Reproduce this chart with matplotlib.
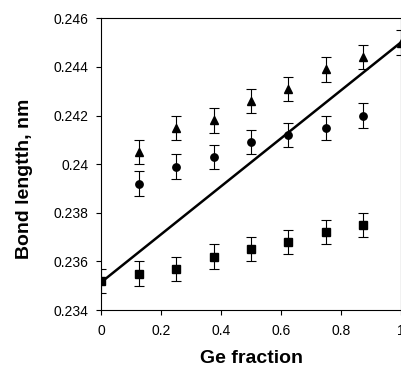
import matplotlib
matplotlib.use("Agg")

import numpy as np
import matplotlib.pyplot as plt

plt.rcParams['font.family'] = ['Liberation Sans', 'DejaVu Sans']

# ======================================
# DATA
# ======================================

x_tri = [0.125, 0.25, 0.375, 0.5, 0.625, 0.75, 0.875, 1.0]
y_tri = [0.2405, 0.2415, 0.2418, 0.2426, 0.2431, 0.2439, 0.2444, 0.2450]

x_circ = [0.125, 0.25, 0.375, 0.5, 0.625, 0.75, 0.875]
y_circ = [0.2392, 0.2399, 0.2403, 0.2409, 0.2412, 0.2415, 0.2420]

x_sq = [0.0, 0.125, 0.25, 0.375, 0.5, 0.625, 0.75, 0.875]
y_sq = [0.2352, 0.2355, 0.2357, 0.2362, 0.2365, 0.2368, 0.2372, 0.2375]

err = 0.0005

# Vegard line
x_line = [0.0, 1.0]
y_line = [0.23515, 0.2450]

xticks = [0, 0.2, 0.4, 0.6, 0.8, 1]
xtick_labels = ["0", "0.2", "0.4", "0.6", "0.8", "1"]
yticks = [0.234, 0.236, 0.238, 0.240, 0.242, 0.244, 0.246]
ytick_labels = ["0.234", "0.236", "0.238", "0.24", "0.242", "0.244", "0.246"]


# ======================================
# PLOT
# ======================================

fig = plt.figure(figsize=(4.01, 3.68), dpi=100)
ax = fig.add_axes([0.253, 0.1576, 0.746, 0.7926])

ax.plot(x_line, y_line, color="black", lw=1.8, zorder=2)

eb = dict(color="black", ecolor="black", elinewidth=0.8, capsize=3.6,
          capthick=0.8, linestyle="none", zorder=3)

ax.errorbar(x_tri, y_tri, yerr=err, marker="^", markersize=6, **eb)
ax.errorbar(x_circ, y_circ, yerr=err, marker="o", markersize=5.3, **eb)
ax.errorbar(x_sq, y_sq, yerr=err, marker="s", markersize=5.2, **eb)

ax.set_xlim(0, 1)
ax.set_ylim(0.234, 0.246)

ax.set_xticks(xticks)
ax.set_xticklabels(xtick_labels)
ax.set_yticks(yticks)
ax.set_yticklabels(ytick_labels)

ax.tick_params(direction="out", length=3.5, width=0.8, labelsize=10)
ax.tick_params(axis="x", pad=6.5)
ax.tick_params(axis="y", pad=6)

for s in ax.spines.values():
    s.set_linewidth(0.8)

ax.set_xlabel("Ge fraction", fontsize=14, fontweight="bold")
ax.set_ylabel("Bond lengtth, nm", fontsize=14, fontweight="bold")
ax.xaxis.set_label_coords(0.5, -0.137)
ax.yaxis.set_label_coords(-0.228, 0.449)

plt.savefig("out.png", dpi=100)
plt.close()
